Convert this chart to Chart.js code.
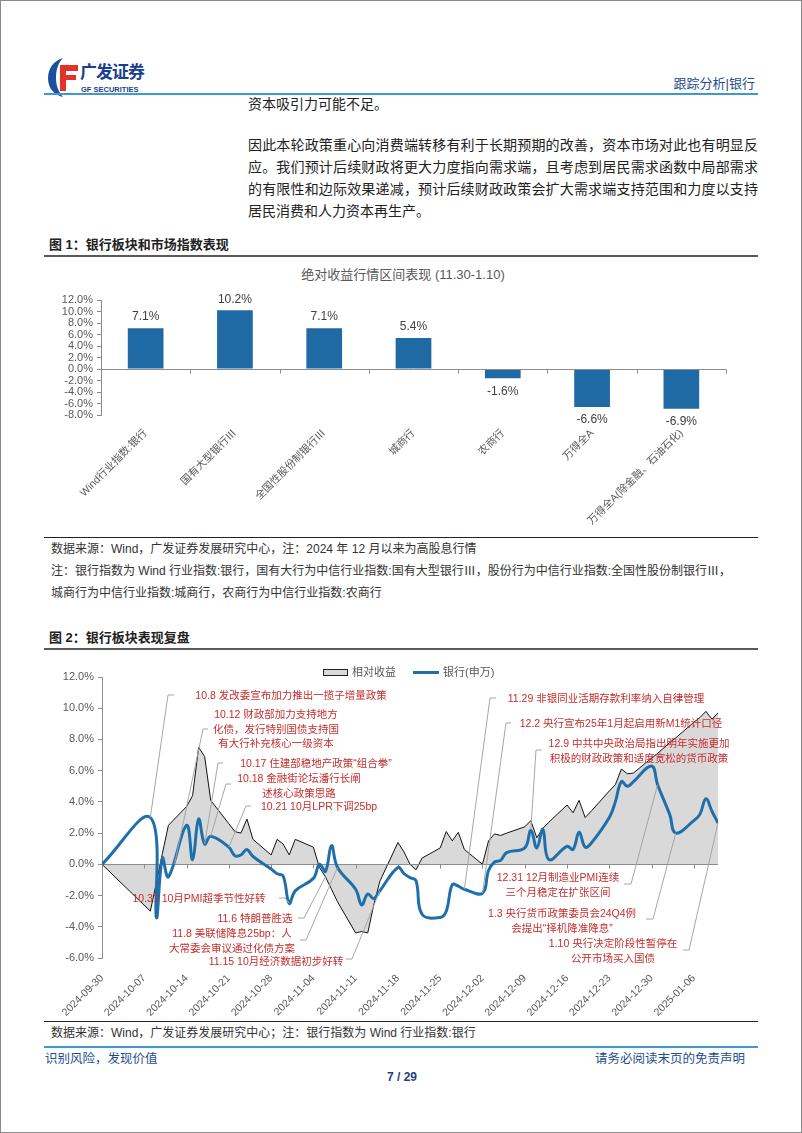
<!DOCTYPE html>
<html>
<head>
<meta charset="utf-8">
<script src="https://cdn.jsdelivr.net/npm/chart.js@4.4.1/dist/chart.umd.min.js"></script>
<style>
  body { margin: 0; background: #fff; }
  #page { position: relative; width: 802px; height: 1133px; box-sizing: border-box; border: 1px solid #8a8a8a;
          overflow: hidden; font-family: "Liberation Sans", "Noto Sans CJK SC", sans-serif; color: #222; }
  .t { position: absolute; white-space: nowrap; line-height: 1; transform: translateY(-50%); }
  .rule { position: absolute; left: 43px; width: 714px; }
  .para div { height: 22px; line-height: 22px; text-align: justify; text-align-last: justify; }
  .note { position: absolute; white-space: nowrap; line-height: 1; transform: translate(-50%, -50%);
          color: #c62d2d; font-size: 10.5px; }
  canvas { position: absolute; }
</style>
</head>
<body>
<div id="page">
  <!-- header -->
  <svg style="position:absolute;left:45px;top:55px" width="34" height="42" viewBox="0 0 34 42">
    <path d="M17 2 C7 5 2 13 2 22 C2 32 8 39 17 41 C12 35 10 29 10 22 C10 14 12 7 17 2Z" fill="#1d4fa0"/>
    <path d="M14 9 H32 V15 H20 V19 H30 V24 H20 V35 H14Z" fill="#e4322b"/>
  </svg>
  <div class="t" style="left:79px;top:71px;font-size:17px;font-weight:bold;color:#1b3f8f;letter-spacing:-1px">广发证券</div>
  <div class="t" style="left:80px;top:89px;font-size:7.5px;font-weight:bold;color:#1b3f8f">GF SECURITIES</div>
  <div class="t" style="right:46px;top:82px;font-size:13px;color:#1f4e8c">跟踪分析|银行</div>
  <div class="rule" style="top:92px;height:2px;background:#3d9ad1"></div>

  <!-- body text -->
  <div class="t" style="left:247px;top:103px;font-size:14px">资本吸引力可能不足。</div>
  <div class="para" style="position:absolute;left:247px;top:133px;width:510px;font-size:14px">
    <div>因此本轮政策重心向消费端转移有利于长期预期的改善，资本市场对此也有明显反</div>
    <div>应。我们预计后续财政将更大力度指向需求端，且考虑到居民需求函数中局部需求</div>
    <div>的有限性和边际效果递减，预计后续财政政策会扩大需求端支持范围和力度以支持</div>
    <div style="text-align-last:left">居民消费和人力资本再生产。</div>
  </div>

  <!-- figure 1 -->
  <div class="t" style="left:48px;top:243px;font-size:13px;font-weight:bold">图 1：银行板块和市场指数表现</div>
  <div class="rule" style="top:254px;height:2px;background:#595959"></div>
  <div class="t" style="left:402px;top:273px;font-size:13px;color:#595959;transform:translate(-50%,-50%)">绝对收益行情区间表现 (11.30-1.10)</div>
  <canvas id="c1" width="714" height="272" style="left:43px;top:258px"></canvas>
  <div class="rule" style="top:536px;height:1px;background:#222"></div>
  <div class="t" style="left:50px;top:548px;font-size:12px;color:#333">数据来源：Wind，广发证券发展研究中心，注：2024 年 12 月以来为高股息行情</div>
  <div class="t" style="left:50px;top:570px;font-size:12px;color:#333">注：银行指数为 Wind 行业指数:银行，国有大行为中信行业指数:国有大型银行Ⅲ，股份行为中信行业指数:全国性股份制银行Ⅲ，</div>
  <div class="t" style="left:50px;top:592px;font-size:12px;color:#333">城商行为中信行业指数:城商行，农商行为中信行业指数:农商行</div>

  <!-- figure 2 -->
  <div class="t" style="left:48px;top:636px;font-size:13px;font-weight:bold">图 2：银行板块表现复盘</div>
  <div class="rule" style="top:647px;height:2px;background:#595959"></div>
  <canvas id="c2" width="714" height="366" style="left:43px;top:652px"></canvas>
  <div style="position:absolute;left:322px;top:668px;width:23px;height:5px;background:#d9d9d9;border:1px solid #222"></div>
  <div class="t" style="left:351px;top:671px;font-size:11px;color:#595959">相对收益</div>
  <div style="position:absolute;left:412px;top:670px;width:26px;height:3px;background:#1f6fab"></div>
  <div class="t" style="left:442px;top:671px;font-size:11px;color:#595959">银行(申万)</div>
  <div id="notes"></div>
  <div class="rule" style="top:1020px;height:1px;background:#222"></div>
  <div class="t" style="left:50px;top:1032px;font-size:12px;color:#333">数据来源：Wind，广发证券发展研究中心；注：银行指数为 Wind 行业指数:银行</div>

  <!-- footer -->
  <div class="rule" style="top:1045px;height:2px;background:#3d9ad1"></div>
  <div class="t" style="left:44px;top:1058px;font-size:12.5px;color:#1f4e8c">识别风险，发现价值</div>
  <div class="t" style="right:56px;top:1058px;font-size:12.5px;color:#1f4e8c">请务必阅读末页的免责声明</div>
  <div class="t" style="left:401px;top:1076px;font-size:12px;font-weight:bold;color:#1f3f7f;transform:translate(-50%,-50%)">7 / 29</div>
</div>

<script>
// ---- figure 1 data ----
const barLabels = ['Wind行业指数:银行', '国有大型银行Ⅲ', '全国性股份制银行Ⅲ', '城商行', '农商行', '万得全A', '万得全A(除金融、石油石化)'];
const barValues = [7.1, 10.2, 7.1, 5.4, -1.6, -6.6, -6.9];

// ---- figure 2 data ----
const tradeDates = [
  '2024-09-30',
  '2024-10-08', '2024-10-09', '2024-10-10', '2024-10-11',
  '2024-10-14', '2024-10-15', '2024-10-16', '2024-10-17', '2024-10-18',
  '2024-10-21', '2024-10-22', '2024-10-23', '2024-10-24', '2024-10-25',
  '2024-10-28', '2024-10-29', '2024-10-30', '2024-10-31', '2024-11-01',
  '2024-11-04', '2024-11-05', '2024-11-06', '2024-11-07', '2024-11-08',
  '2024-11-11', '2024-11-12', '2024-11-13', '2024-11-14', '2024-11-15',
  '2024-11-18', '2024-11-19', '2024-11-20', '2024-11-21', '2024-11-22',
  '2024-11-25', '2024-11-26', '2024-11-27', '2024-11-28', '2024-11-29',
  '2024-12-02', '2024-12-03', '2024-12-04', '2024-12-05', '2024-12-06',
  '2024-12-09', '2024-12-10', '2024-12-11', '2024-12-12', '2024-12-13',
  '2024-12-16', '2024-12-17', '2024-12-18', '2024-12-19', '2024-12-20',
  '2024-12-23', '2024-12-24', '2024-12-25', '2024-12-26', '2024-12-27',
  '2024-12-30', '2024-12-31',
  '2025-01-02', '2025-01-03',
  '2025-01-06', '2025-01-07', '2025-01-08', '2025-01-09', '2025-01-10'
];
const relReturn = [
  0,
  -3.0, -1.2, 0.7, 2.5,
  3.7, 4.4, 7.5, 6.9, 4.1,
  2.6, 2.1, 2.0, 2.9, 1.6,
  0.6, 1.6, 1.3, 0.6, 1.6,
  1.1, -0.2, -0.8, -1.6, -2.4,
  -4.4, -4.3, -4.4, -2.6, -1.1,
  1.4, 0.8, 0.0, -0.35, 0.4,
  1.05, 2.1, 1.5, 2.05, 0.95,
  0.0, 1.5, 1.95, 1.85, 2.0,
  2.4, 2.8, 1.7, 2.3, 2.7,
  3.8, 3.3, 4.1, 3.0, 3.4,
  4.7, 5.1, 6.1, 5.8, 5.85,
  6.8, 7.1,
  7.8, 8.1,
  9.1, 9.4, 9.8, 9.3, 9.7
];
const bankIndex = [
  0,
  3.0, -3.4, 0.4, -0.8,
  2.5, 0.3, 2.9, 1.3, 1.8,
  1.1, 0.55, 0.6, 0.95, 0.5,
  -0.3, -0.6, -0.75, -2.5, -1.7,
  -0.9, 0.0, -0.45, 1.2, -0.2,
  -1.6, -2.6, -1.9, -2.2, -1.7,
  -0.2, -0.6, -0.85, -1.05, -3.2,
  -3.4, -3.0, -1.3, -1.4, -1.6,
  -1.85, -0.4, 0.15, 0.25, 0.75,
  1.05, 2.2, 1.05, 2.25, 0.3,
  1.15, 0.95, 2.05, 1.1, 1.35,
  3.0, 4.0, 5.3, 5.0, 5.3,
  6.3, 5.1,
  3.2, 2.0,
  2.8, 3.2, 4.2, 3.4, 2.65
];

// event notes: text, centre of text (page px), leader start, and the date/series it points at
const notes = [
  { lines: ['10.8 发改委宣布加力推出一揽子增量政策'], x: 290, y: 694, from: [[173, 694], [167, 694]], date: '2024-10-08', s: 'bank' },
  { lines: ['10.12 财政部加力支持地方', '化债，发行特别国债支持国', '有大行补充核心一级资本'], x: 275, y: 713, from: [[207, 728], [202, 728]], date: '2024-10-12', v: 0 },
  { lines: ['10.17 住建部稳地产政策“组合拳”'], x: 315, y: 762, from: [[222, 762], [217, 762]], date: '2024-10-17', s: 'bank' },
  { lines: ['10.18 金融街论坛潘行长阐', '述核心政策思路'], x: 298, y: 777, from: [[230, 783], [225, 783]], date: '2024-10-18', s: 'bank' },
  { lines: ['10.21 10月LPR下调25bp'], x: 318, y: 805, from: [[250, 805], [245, 805]], date: '2024-10-21', s: 'bank' },
  { lines: ['10.31 10月PMI超季节性好转'], x: 198, y: 897, from: [[278, 897], [284, 897]], date: '2024-10-31', s: 'bank' },
  { lines: ['11.6 特朗普胜选'], x: 254, y: 917, from: [[297, 917], [303, 917]], date: '2024-11-06', s: 'rel' },
  { lines: ['11.8 美联储降息25bp：人', '大常委会审议通过化债方案'], x: 231, y: 932, from: [[299, 939], [305, 939]], date: '2024-11-08', s: 'bank' },
  { lines: ['11.15 10月经济数据初步好转'], x: 275, y: 960, from: [[345, 958], [351, 958]], date: '2024-11-15', s: 'bank' },
  { lines: ['11.29 非银同业活期存款利率纳入自律管理'], x: 605, y: 697, from: [[495, 697], [489, 697]], date: '2024-11-29', s: 'bank' },
  { lines: ['12.2 央行宣布25年1月起启用新M1统计口径'], x: 620, y: 722, from: [[510, 722], [505, 722]], date: '2024-12-02', s: 'bank' },
  { lines: ['12.9 中共中央政治局指出明年实施更加', '积极的财政政策和适度宽松的货币政策'], x: 638, y: 742, from: [[541, 749], [535, 749]], date: '2024-12-10', s: 'bank' },
  { lines: ['12.31 12月制造业PMI连续', '三个月稳定在扩张区间'], x: 557, y: 876, from: [[623, 883], [630, 883]], date: '2024-12-31', s: 'bank' },
  { lines: ['1.3 央行货币政策委员会24Q4例', '会提出“择机降准降息”'], x: 561, y: 912, from: [[645, 918], [652, 918]], date: '2025-01-03', s: 'bank' },
  { lines: ['1.10 央行决定阶段性暂停在', '公开市场买入国债'], x: 612, y: 942, from: [[682, 949], [688, 949]], date: '2025-01-10', s: 'bank' }
];

const BASE = Date.UTC(2024, 8, 30);
function dayOf(s) {
  const p = s.split('-').map(Number);
  return Math.round((Date.UTC(p[0], p[1] - 1, p[2]) - BASE) / 86400000);
}
function fmtDay(v) {
  const d = new Date(BASE + v * 86400000);
  const pad = n => String(n).padStart(2, '0');
  return d.getUTCFullYear() + '-' + pad(d.getUTCMonth() + 1) + '-' + pad(d.getUTCDate());
}
const AXIS = '#8c8c8c';
const LABEL = '#595959';

// ---------------- figure 1 ----------------
const bar1Plugin = {
  id: 'bar1',
  afterDatasetsDraw(chart) {
    const { ctx, chartArea, scales: { x, y } } = chart;
    const y0 = Math.round(y.getPixelForValue(0)) + 0.5;
    ctx.save();
    ctx.strokeStyle = AXIS;
    ctx.lineWidth = 1;
    ctx.beginPath();
    ctx.moveTo(chartArea.left, y0);
    ctx.lineTo(chartArea.right, y0);
    for (let i = 0; i <= barLabels.length; i++) {
      const px = Math.round(x.getPixelForValue(i - 0.5)) + 0.5;
      ctx.moveTo(px, y0);
      ctx.lineTo(px, y0 + 4);
    }
    ctx.stroke();
    ctx.fillStyle = '#404040';
    ctx.font = '12px "Liberation Sans", sans-serif';
    ctx.textAlign = 'center';
    ctx.textBaseline = 'middle';
    chart.getDatasetMeta(0).data.forEach((bar, i) => {
      const v = barValues[i];
      ctx.fillText(v.toFixed(1) + '%', bar.x, v >= 0 ? bar.y - 11 : bar.y + 13);
    });
    ctx.restore();
  }
};

new Chart(document.getElementById('c1'), {
  type: 'bar',
  data: {
    labels: barLabels,
    datasets: [{ data: barValues, backgroundColor: '#1f69a5', categoryPercentage: 1, barPercentage: 0.4 }]
  },
  options: {
    responsive: false, animation: false, devicePixelRatio: 1,
    layout: { padding: { top: 41, right: 32, bottom: 0, left: 0 } },
    plugins: { legend: { display: false }, tooltip: { enabled: false } },
    scales: {
      x: {
        afterFit: s => { s.height = 116; },
        grid: { display: false }, border: { display: false },
        ticks: { autoSkip: false, minRotation: 45, maxRotation: 45, padding: 4, color: LABEL,
                 font: { size: 10.5, family: '"Liberation Sans", "Noto Sans CJK SC", sans-serif' } }
      },
      y: {
        min: -8, max: 12,
        afterFit: s => { s.width = 57; },
        grid: { drawOnChartArea: false, tickLength: 4, color: AXIS },
        border: { color: AXIS },
        ticks: { stepSize: 2, autoSkip: false, padding: 4, color: LABEL,
                 font: { size: 11, family: '"Liberation Sans", sans-serif' },
                 callback: v => v.toFixed(1) + '%' }
      }
    }
  },
  plugins: [bar1Plugin]
});

// ---------------- figure 2 ----------------
const C2_LEFT = 43, C2_TOP = 652;
const series = {
  rel: tradeDates.map((d, i) => ({ x: dayOf(d), y: relReturn[i] })),
  bank: tradeDates.map((d, i) => ({ x: dayOf(d), y: bankIndex[i] }))
};

const line2Plugin = {
  id: 'line2',
  afterDatasetDraw(chart, args) {
    if (args.index !== 1) return;   // after the grey area, before the blue line
    const { ctx, chartArea, scales: { x, y } } = chart;
    const y0 = Math.round(y.getPixelForValue(0)) + 0.5;
    ctx.save();
    ctx.strokeStyle = AXIS;
    ctx.lineWidth = 1;
    ctx.beginPath();
    ctx.moveTo(chartArea.left, y0);
    ctx.lineTo(chartArea.right, y0);
    x.ticks.forEach(t => {
      const px = Math.round(x.getPixelForValue(t.value)) + 0.5;
      ctx.moveTo(px, y0);
      ctx.lineTo(px, y0 + 4);
    });
    ctx.stroke();
    ctx.restore();
  },
  afterDraw(chart) {
    const { ctx, scales: { x, y } } = chart;
    ctx.save();
    ctx.strokeStyle = '#a6a6a6';
    ctx.lineWidth = 1;
    notes.forEach(n => {
      const k = tradeDates.indexOf(n.date);
      const val = n.s ? (n.s === 'bank' ? bankIndex[k] : relReturn[k]) : n.v;
      ctx.beginPath();
      n.from.forEach((p, j) => {
        const px = p[0] - C2_LEFT, py = p[1] - C2_TOP;
        if (j === 0) ctx.moveTo(px, py); else ctx.lineTo(px, py);
      });
      ctx.lineTo(x.getPixelForValue(dayOf(n.date)), y.getPixelForValue(val));
      ctx.stroke();
    });
    ctx.restore();
  }
};

new Chart(document.getElementById('c2'), {
  type: 'line',
  data: {
    datasets: [
      { label: '银行(申万)', data: series.bank, borderColor: '#1f6fab', borderWidth: 3, pointRadius: 0,
        tension: 0.4, fill: false },
      { label: '相对收益', data: series.rel, borderColor: '#111', borderWidth: 1, pointRadius: 0,
        tension: 0, fill: 'origin', backgroundColor: '#d9d9d9' }
    ]
  },
  options: {
    responsive: false, animation: false, devicePixelRatio: 1,
    layout: { padding: { top: 24, right: 40, bottom: 0, left: 0 } },
    plugins: { legend: { display: false }, tooltip: { enabled: false } },
    scales: {
      x: {
        type: 'linear', min: 0, max: dayOf('2025-01-10'),
        afterFit: s => { s.height = 61; },
        afterBuildTicks: s => { s.ticks = s.ticks.filter(t => t.value % 7 === 0); },
        grid: { display: false }, border: { display: false },
        ticks: { stepSize: 7, autoSkip: false, minRotation: 45, maxRotation: 45, padding: 6, color: LABEL,
                 font: { size: 10.5, family: '"Liberation Sans", sans-serif' }, callback: v => fmtDay(v) }
      },
      y: {
        min: -6, max: 12,
        afterFit: s => { s.width = 58; },
        grid: { drawOnChartArea: false, tickLength: 4, color: AXIS },
        border: { color: AXIS },
        ticks: { stepSize: 2, autoSkip: false, padding: 4, color: LABEL,
                 font: { size: 11, family: '"Liberation Sans", sans-serif' },
                 callback: v => v.toFixed(1) + '%' }
      }
    }
  },
  plugins: [line2Plugin]
});

// note texts as real text on top of the chart
const box = document.getElementById('notes');
notes.forEach(n => {
  n.lines.forEach((ln, j) => {
    const el = document.createElement('div');
    el.className = 'note';
    el.style.left = n.x + 'px';
    el.style.top = (n.y + j * 14.5) + 'px';
    el.textContent = ln;
    box.appendChild(el);
  });
});
</script>
</body>
</html>
